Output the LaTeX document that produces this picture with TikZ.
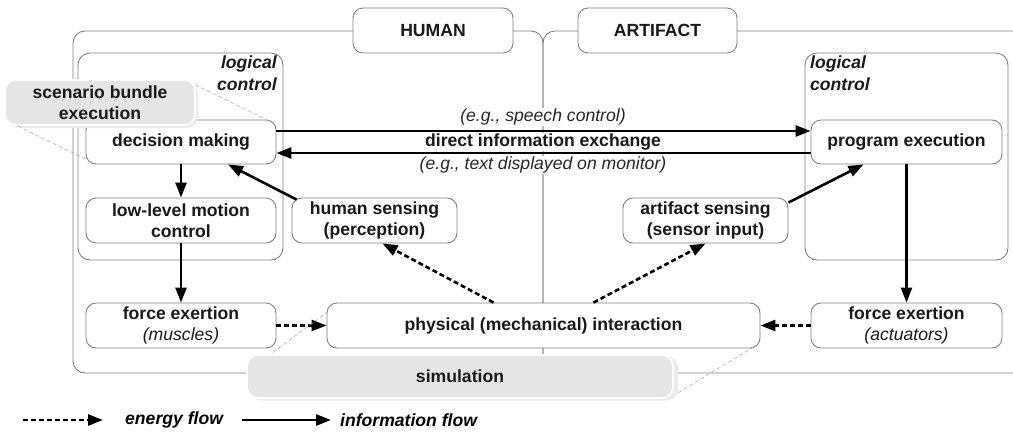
\documentclass[tikz,border=0pt]{standalone}
\usepackage{fontspec}
\setmainfont{Liberation Sans}
\usetikzlibrary{arrows.meta}

\begin{document}
\begin{tikzpicture}[x=1pt,y=-1pt,
  font=\fontsize{17.6}{21.5}\selectfont\bfseries,
  box/.style={draw=black!50, line width=0.9pt, rounded corners=10pt, fill=white,
    align=center, inner sep=0pt, text=black!90},
  frame/.style={draw=black!50, line width=0.9pt, rounded corners=12pt},
  ctrlbox/.style={draw=black!50, line width=0.9pt, rounded corners=12pt, inner sep=0pt},
  ctrllabel/.style={font=\fontsize{17.6}{21.5}\selectfont\bfseries\itshape, inner sep=0pt, text=black!90},
  info/.style={line width=2.6pt, -{Triangle[length=15pt,width=11pt]}},
  energy/.style={line width=2.6pt, dash pattern=on 5pt off 3pt, -{Triangle[length=15pt,width=11pt]}},
  zoomline/.style={draw=black!30, line width=0.6pt, dash pattern=on 4pt off 2.5pt},
  greybox/.style={fill=black!10, draw=white, line width=1.6pt, rounded corners=11pt,
    align=center, inner sep=0pt, text=black!90},
  shadowbox/.style={fill=black!8, draw=none, rounded corners=11pt, inner sep=0pt},
  note/.style={font=\fontsize{17.6}{21.5}\selectfont\itshape, fill=white, inner sep=1pt, text=black!85},
  legendtext/.style={font=\fontsize{17.6}{21.5}\selectfont\bfseries\itshape, anchor=west, inner sep=0pt}
]
\useasboundingbox (0,0) rectangle (1013,432);
\clip (0,0) rectangle (1013,432);

% side frames (human / artifact)
\draw[frame] (73,31) rectangle (543,373);
\draw[frame] (543,31) rectangle (1045,373);

% logical control regions
\node[ctrlbox, minimum width=205pt, minimum height=207pt] (lcH) at (180.5,156.5) {};
\node[ctrlbox, minimum width=203pt, minimum height=207pt] (lcA) at (906.5,156.5) {};
\node[ctrllabel, anchor=north east, align=right] (lcHlab) at (277,56) {logical\\control};
\node[ctrllabel, anchor=north west, align=left] (lcAlab) at (810,56) {logical\\control};

% side titles
\node[box, minimum width=160pt, minimum height=45pt] (human) at (433,30.5) {HUMAN};
\node[box, minimum width=159pt, minimum height=45pt] (artifact) at (657.5,30.5) {ARTIFACT};

% main boxes
\node[box, minimum width=190pt, minimum height=44pt] (decision) at (181,142) {decision making};
\node[box, minimum width=191pt, minimum height=44pt] (program) at (906.5,142) {program execution};
\node[box, minimum width=190pt, minimum height=45pt] (lowlevel) at (181,220.5) {low-level motion\\control};
\node[box, minimum width=165pt, minimum height=45pt] (hsense) at (374.5,220.5) {human sensing\\(perception)};
\node[box, minimum width=165pt, minimum height=45pt] (asense) at (705.5,220.5) {artifact sensing\\(sensor input)};
\node[box, minimum width=190pt, minimum height=45pt] (forceH) at (181,325.5) {force exertion\\{\mdseries\itshape (muscles)}};
\node[box, minimum width=433pt, minimum height=45pt] (phys) at (543.5,325.5) {physical (mechanical) interaction};
\node[box, minimum width=191pt, minimum height=45pt] (forceA) at (906.5,325.5) {force exertion\\{\mdseries\itshape (actuators)}};

% direct information exchange
\draw[info] ([yshift=11pt]decision.east) -- ([yshift=11pt]program.west);
\draw[info] ([yshift=-11pt]program.west) -- ([yshift=-11pt]decision.east);
\node[note] (ex1) at (543,117) {(e.g., speech control)};
\node[fill=white, inner sep=1pt, text=black!90] (direct) at (543,142) {direct information exchange};
\node[note] (ex2) at (543,165) {(e.g., text displayed on monitor)};

% information flow
\draw[info] (decision.south) -- (lowlevel.north);
\draw[info] (lowlevel.south) -- (forceH.north);
\draw[info] ([xshift=5pt,yshift=-2pt]hsense.north west) -- ([xshift=47pt]decision.south);
\draw[info] ([yshift=-5pt]asense.north east) -- ([xshift=-43pt]program.south);
\draw[info] (program.south) -- (forceA.north);

% energy flow
\draw[energy] (forceH.east) -- (phys.west);
\draw[energy] (forceA.west) -- (phys.east);
\draw[energy] ([xshift=-50pt]phys.north) -- ([xshift=8pt]hsense.south);
\draw[energy] ([xshift=50pt]phys.north) -- (asense.south);

% scenario bundle execution (zoomed view of decision making)
\node[shadowbox, minimum width=190pt, minimum height=45pt] (scenshadow) at (103,105.5) {};
\draw[zoomline] ([xshift=-3pt,yshift=-2pt]scenshadow.north east) -- ([xshift=-6pt,yshift=-2pt]decision.north east);
\draw[zoomline] ([xshift=10pt,yshift=2pt]scenshadow.south west) -- ([xshift=3pt,yshift=4pt]decision.south west);
\node[greybox, minimum width=190pt, minimum height=45pt] (scenario) at (100,102.5) {scenario bundle\\execution};

% simulation (zoomed view of physical interaction)
\node[shadowbox, minimum width=428pt, minimum height=44pt] (simshadow) at (464,378.5) {};
\draw[zoomline] ([xshift=18pt]simshadow.north west) -- ([yshift=-10pt]phys.north west);
\draw[zoomline] ([yshift=8pt]simshadow.south east) -- ([xshift=-6pt,yshift=2pt]phys.south east);
\node[greybox, minimum width=426pt, minimum height=43pt] (sim) at (460,376.5) {simulation};

% legend
\coordinate (le1) at (23,420);
\coordinate (le2) at (103,420);
\coordinate (li1) at (242,420);
\coordinate (li2) at (331,420);
\draw[energy] (le1) -- (le2);
\node[legendtext] (lenergy) at (125,420) {energy flow};
\draw[info] (li1) -- (li2);
\node[legendtext] (linfo) at (340,420) {information flow};
\end{tikzpicture}
\end{document}
